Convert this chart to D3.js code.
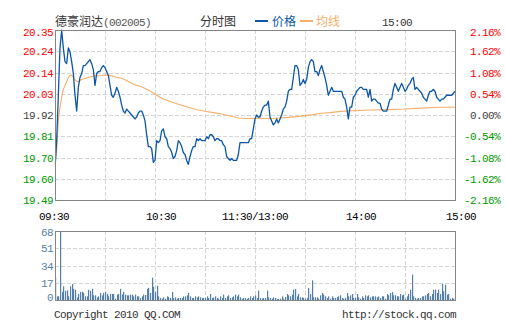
<!DOCTYPE html>
<html><head><meta charset="utf-8">
<script src="https://cdn.jsdelivr.net/npm/d3@7"></script>
<style>
html,body{margin:0;padding:0;background:#fff;}
svg{display:block;}
.mono{font-family:"Liberation Mono","DejaVu Sans Mono",monospace;font-size:11px;letter-spacing:-0.6px;}
.cjk{font-family:"Noto Sans CJK SC",sans-serif;font-size:12px;}
</style>
</head><body>
<svg id="chart" width="505" height="330"></svg>
<script>
// ---------- data ----------
const stockName = "德豪润达";
const stockCode = "(002005)";
const chartTitle = "分时图";
const legendPrice = "价格";
const legendAvg = "均线";
const lastTime = "15:00";
const prevClose = 19.92;

// price per minute, 0 = 09:30 ... 240 = 15:00
const priceValues = [
19.65,19.79,20.02,20.26,20.35,20.26,20.19,20.18,20.26,20.24,
20.19,20.13,20.02,19.94,20.06,20.11,20.13,20.17,20.17,20.18,
20.19,20.20,20.18,20.15,20.07,20.13,20.14,20.14,20.16,20.17,
20.16,20.14,20.12,20.07,20.02,20.01,20.03,20.06,20.04,20.01,
19.97,19.94,19.93,19.95,19.94,19.93,19.92,19.91,19.90,19.91,
19.93,19.94,19.94,19.92,19.89,19.82,19.76,19.76,19.75,19.68,
19.69,19.79,19.78,19.79,19.84,19.85,19.81,19.80,19.76,19.75,
19.73,19.70,19.71,19.74,19.79,19.78,19.76,19.73,19.72,19.69,
19.67,19.71,19.74,19.76,19.76,19.80,19.79,19.80,19.79,19.79,
19.79,19.81,19.80,19.82,19.82,19.81,19.79,19.80,19.80,19.79,
19.79,19.77,19.76,19.71,19.70,19.69,19.70,19.69,19.69,19.69,
19.72,19.78,19.78,19.78,19.78,19.78,19.78,19.80,19.80,19.85,
19.90,19.92,19.91,19.91,19.94,19.96,19.97,19.97,19.99,19.91,
19.89,19.87,19.88,19.90,19.88,19.90,19.92,19.95,19.96,19.99,
20.04,20.05,20.05,20.11,20.17,20.17,20.15,20.07,20.08,20.10,
20.08,20.10,20.16,20.19,20.20,20.19,20.14,20.14,20.12,20.15,
20.17,20.14,20.11,20.07,20.02,20.04,20.06,20.04,20.04,20.04,
20.04,20.04,20.04,20.01,20.00,19.96,19.90,19.96,19.96,20.01,
20.02,20.04,20.05,20.06,20.06,20.05,20.05,20.05,20.01,20.05,
19.99,20.00,20.00,19.99,19.98,19.98,19.95,19.94,19.94,19.94,
19.97,20.00,20.00,20.05,20.08,20.06,20.04,20.06,20.08,20.06,
20.04,20.05,20.07,20.08,20.10,20.11,20.05,20.06,20.05,20.04,
20.03,20.01,20.00,19.99,20.02,20.04,20.04,20.05,20.04,20.01,
20.00,19.99,20.00,20.00,20.01,20.02,20.02,20.02,20.02,20.03,
20.04];

// average price line, sampled
const avgMinutes = [0,1,2,3,4,5,6,7,8,9,10,11,12,13,14,15,16,18,20,22,24,28,30,32,34,36,38,40,42,44,46,48,50,52,54,56,58,60,65,70,75,80,85,90,95,100,105,110,115,120,125,130,135,140,145,150,155,160,165,170,175,180,185,190,200,210,220,230,240];
const avgValues = [19.67,19.74,19.89,19.96,20.01,20.05,20.07,20.09,20.11,20.12,20.122,20.11,20.10,20.09,20.089,20.095,20.10,20.105,20.11,20.115,20.118,20.12,20.122,20.122,20.118,20.113,20.11,20.106,20.098,20.09,20.081,20.073,20.068,20.063,20.054,20.046,20.037,20.025,20.001,19.986,19.972,19.959,19.947,19.939,19.932,19.925,19.915,19.905,19.902,19.902,19.902,19.902,19.905,19.908,19.912,19.917,19.922,19.929,19.932,19.937,19.940,19.942,19.944,19.945,19.947,19.950,19.955,19.959,19.959];

// volume per minute
const volumeValues = [
22,3.6,3.6,70,8,13.5,9,9.5,3.6,13.5,
15.8,11,10,2.6,6,8,8,7,3.6,3.6,
10,9,11,4.6,4.6,2.6,3.6,7,4.6,7,
8,6,3.6,6,6,6,1.3,5.3,6,11,
5.3,8,5.3,4.6,4.6,5.3,5.3,3.6,5.3,3.6,
3.6,2,3.6,5.3,5,11,12,7,22,13,
8,14,3.6,2,1.3,2.6,1.3,3.6,3,2,
7.9,2,2.6,1.3,2,2,2,3.6,3.6,4.6,
6.9,3.6,2,2,3.6,2.6,3.6,2.6,2,2,
2,3.6,2,5.9,2,2.6,3.6,2,1.3,3.6,
2,5.3,2,3.6,4.6,2,2.6,3.6,5.3,3.6,
5.3,2.6,1.3,2,2,1.3,2,3.6,2,3.6,
4.6,2,9.2,2,1.3,2,2,9.2,2.6,2,
1.3,2.6,2,1,1,1.3,3.6,1.3,3,5.9,
4.6,3.6,5.3,10.2,10.9,3.6,5.9,2.6,2.6,2,
1.3,2,11.8,5.9,19.4,2.6,2.6,2.6,1.3,4.6,
6.9,5.3,3.6,2,3.6,1.3,3.6,2,2,3,
3.6,4.6,2,1.3,2,6.9,3.6,4.6,5.9,2,
2,5.9,2.6,1.3,3.6,2,4.6,3.6,4.6,2.6,
3.6,3.6,3.6,2.6,3.6,2,3.6,3.6,1.3,5.9,
4.6,6.9,7.9,4.6,4.6,3.6,3.6,5.9,4.6,5.3,
1.3,3.6,5.9,10.2,25,3.6,2,1.3,2,2,
3.6,3.6,4.6,5.9,6.9,3.6,5.9,10.2,10.2,6.9,
10.2,5.9,15.8,8.5,15.1,5.3,5.9,1.3,2,1.3,
13.5];

const priceTickLabels = ["20.35","20.24","20.14","20.03","19.92","19.81","19.70","19.60","19.49"];
const pctTicks = [2.16,1.62,1.08,0.54,0,-0.54,-1.08,-1.62,-2.16];
const volumeTicks = [0,17,34,51,68];
const timeTickMinutes = [0,60,120,180,240];
const timeTickLabels = ["09:30","10:30","11:30/13:00","14:00","15:00"];
const copyrightText = "Copyright 2010 QQ.COM";
const urlText = "http://stock.qq.com";

// ---------- drawing ----------
const svg = d3.select("#chart");
const L = 55, R = 455, T = 30, B = 200, VT = 231, VB = 300;
const C_RED = "#ff0000", C_GREEN = "#009900", C_GRAY = "#444444";
const C_BLUE = "#0b56a8", C_ORANGE = "#f5ae68", C_VOL = "#5480a8";

const x = d3.scaleLinear().domain([0, 240]).range([L, R]);
const yPct = d3.scaleLinear().domain([-2.16, 2.16]).range([B, T]);
const yPrice = d3.scaleLinear().domain([prevClose * (1 - 0.0216), prevClose * (1 + 0.0216)]).range([B, T]);
const yVol = d3.scaleLinear().domain([0, 68]).range([VB, VT]);

const grid = svg.append("g").attr("stroke", "#d4d4d4").attr("stroke-dasharray", "4,2").attr("stroke-width", 1);
const vMinutes = d3.range(30, 240, 30);
vMinutes.forEach(m => {
  const xx = Math.round(x(m)) + 0.5;
  grid.append("line").attr("x1", xx).attr("x2", xx).attr("y1", T).attr("y2", B);
  grid.append("line").attr("x1", xx).attr("x2", xx).attr("y1", VT).attr("y2", VB);
});
pctTicks.slice(1, -1).forEach(p => {
  const yy = Math.round(yPct(p)) + 0.5;
  grid.append("line").attr("x1", L).attr("x2", R).attr("y1", yy).attr("y2", yy);
});
volumeTicks.slice(1, -1).forEach(v => {
  const yy = Math.round(yVol(v)) + 0.5;
  grid.append("line").attr("x1", L).attr("x2", R).attr("y1", yy).attr("y2", yy);
});

// volume bars
svg.append("clipPath").attr("id", "vclip").append("rect").attr("x", L).attr("y", VT).attr("width", R - L + 1).attr("height", VB - VT);
const volG = svg.append("g").attr("clip-path", "url(#vclip)");
volG.selectAll("rect").data(volumeValues).join("rect")
  .attr("x", (d, i) => Math.round(x(i)))
  .attr("width", 1.2)
  .attr("y", d => yVol(d))
  .attr("height", d => VB - yVol(d))
  .attr("fill", C_VOL);

// average line
const avgData = avgMinutes.map((m, i) => [m, avgValues[i]]);
svg.append("path").datum(avgData)
  .attr("fill", "none").attr("stroke", C_ORANGE).attr("stroke-width", 1.1)
  .attr("d", d3.line().x(d => x(d[0])).y(d => yPrice(d[1])));

// price line
svg.append("clipPath").attr("id", "pclip").append("rect").attr("x", L).attr("y", T - 1).attr("width", R - L).attr("height", B - T + 2);
svg.append("path").datum(priceValues)
  .attr("clip-path", "url(#pclip)")
  .attr("fill", "none").attr("stroke", C_BLUE).attr("stroke-width", 1.3).attr("stroke-linejoin", "round")
  .attr("d", d3.line().x((d, i) => x(i)).y(d => yPrice(d)));

// borders
svg.append("rect").attr("x", L + 0.5).attr("y", T + 0.5).attr("width", R - L).attr("height", B - T)
  .attr("fill", "none").attr("stroke", "#858585");
svg.append("rect").attr("x", L + 0.5).attr("y", VT + 0.5).attr("width", R - L).attr("height", VB - VT)
  .attr("fill", "none").attr("stroke", "#858585");

// left price axis labels
const colorFor = p => p > 0 ? C_RED : (p < 0 ? C_GREEN : C_GRAY);
svg.append("g").selectAll("text").data(pctTicks).join("text")
  .attr("class", "mono").attr("text-anchor", "end")
  .attr("x", 53)
  .attr("y", d => Math.max(yPct(d) + 4, 36))
  .attr("fill", d => colorFor(d))
  .text((d, i) => priceTickLabels[i]);
// right pct labels
svg.append("g").selectAll("text").data(pctTicks).join("text")
  .attr("class", "mono").attr("text-anchor", "end")
  .attr("x", 500)
  .attr("y", d => Math.max(yPct(d) + 4, 36))
  .attr("fill", d => colorFor(d))
  .text(d => d.toFixed(2) + "%");

// volume axis labels
svg.append("g").selectAll("text").data(volumeTicks).join("text")
  .attr("class", "mono").attr("text-anchor", "end")
  .attr("x", 53)
  .attr("y", d => Math.min(Math.max(yVol(d) + 4, 236), 301))
  .attr("fill", C_VOL)
  .text(d => d);

// time labels
svg.append("g").selectAll("text").data(timeTickMinutes).join("text")
  .attr("class", "mono")
  .attr("text-anchor", (d, i) => (i === 0 || timeTickLabels[i].includes("/")) ? "middle" : "start")
  .attr("x", (d, i) => i === 0 ? x(d) - 1 : (timeTickLabels[i].includes("/") ? x(d) : x(d) - 9))
  .attr("y", 220)
  .attr("fill", "#000")
  .text((d, i) => timeTickLabels[i]);

// title
const title = svg.append("text").attr("x", 55).attr("y", 26).attr("fill", "#333");
title.append("tspan").attr("class", "cjk").text(stockName);
title.append("tspan").attr("class", "mono").attr("fill", "#555").text(stockCode);
svg.append("text").attr("class", "cjk").attr("x", 200).attr("y", 26).attr("fill", "#333").text(chartTitle);
svg.append("line").attr("x1", 255).attr("x2", 268).attr("y1", 21).attr("y2", 21).attr("stroke", C_BLUE).attr("stroke-width", 2);
svg.append("text").attr("class", "cjk").attr("x", 272).attr("y", 26).attr("fill", C_BLUE).text(legendPrice);
svg.append("line").attr("x1", 300).attr("x2", 313).attr("y1", 21).attr("y2", 21).attr("stroke", C_ORANGE).attr("stroke-width", 2);
svg.append("text").attr("class", "cjk").attr("x", 316).attr("y", 26).attr("fill", C_ORANGE).text(legendAvg);
svg.append("text").attr("class", "mono").attr("x", 382).attr("y", 26).attr("fill", "#333").text(lastTime);

// footer
svg.append("text").attr("class", "mono").attr("x", 54).attr("y", 318).attr("fill", "#333").text(copyrightText);
svg.append("text").attr("class", "mono").attr("text-anchor", "end").attr("x", 456).attr("y", 318).attr("fill", "#333").text(urlText);
</script>
</body></html>
